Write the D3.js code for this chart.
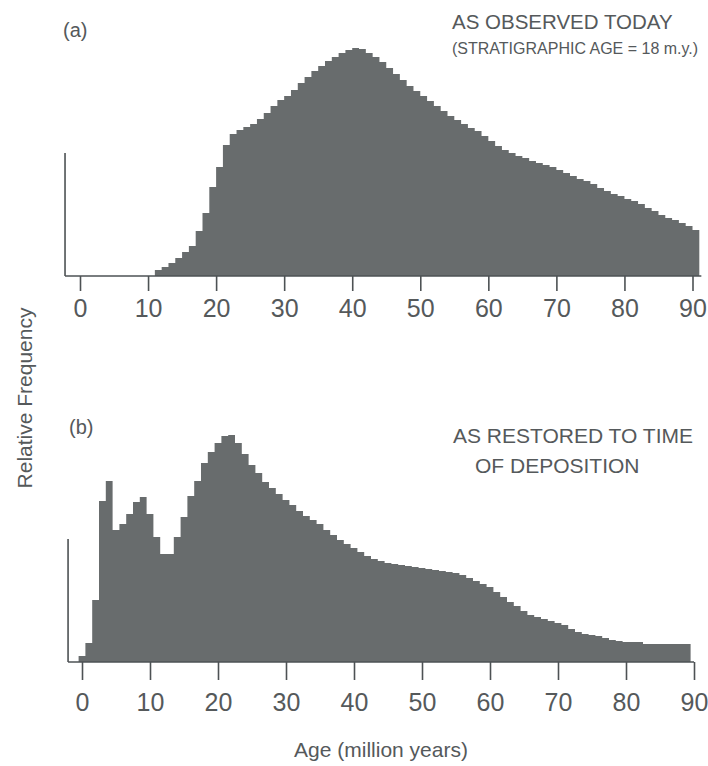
<!DOCTYPE html>
<html>
<head>
<meta charset="utf-8">
<script src="https://cdn.jsdelivr.net/npm/d3@7"></script>
<style>
  html, body { margin: 0; padding: 0; background: #ffffff; }
  svg { display: block; }
  text { font-family: "Liberation Sans", Arial, sans-serif; fill: #55595b; }
</style>
</head>
<body>
<svg id="chart" width="708" height="766"></svg>
<script>
// Age axis tick labels (million years)
const ageTicks = [0, 10, 20, 30, 40, 50, 60, 70, 80, 90];

// (a) Age distribution as observed today: 1 m.y. bins starting at 11 m.y.
const observedBinStart = 11;
const observedFreq = [
  2.6, 3.9, 5.7, 7.9, 10.5, 13.2, 19.7, 27.6, 39.0, 47.8,
  57.5, 62.3, 64.0, 65.4, 66.7, 68.9, 71.5, 74.6, 77.2, 78.9,
  81.6, 84.6, 87.3, 89.9, 92.1, 94.3, 96.1, 97.8, 99.1, 100.0,
  99.6, 97.8, 96.1, 93.9, 91.2, 88.6, 86.0, 83.3, 81.1, 78.9,
  76.8, 74.6, 72.4, 70.2, 68.4, 66.7, 64.9, 63.6, 61.4, 59.2,
  57.0, 55.3, 53.9, 52.6, 51.8, 50.4, 49.6, 48.7, 47.8, 46.5,
  45.2, 43.9, 42.5, 41.7, 40.4, 38.6, 37.3, 36.0, 35.1, 33.8,
  32.9, 31.6, 29.8, 28.5, 26.8, 25.4, 24.6, 23.2, 21.9, 20.2
];

// (b) Age distribution restored to time of deposition: 1 m.y. bins centred on 0, 1, 2 ...
const restoredBinStart = -0.5;
const restoredFreq = [
  2.6, 8.3, 27.2, 70.6, 79.4, 57.9, 60.5, 64.9, 70.2, 72.4,
  64.9, 54.8, 47.4, 47.4, 54.8, 63.6, 72.8, 79.4, 87.3, 92.1,
  96.1, 99.1, 99.6, 96.1, 91.2, 86.4, 82.9, 78.9, 76.3, 73.7,
  71.1, 68.9, 66.2, 64.0, 62.3, 60.5, 57.9, 55.7, 53.5, 51.8,
  50.0, 48.2, 46.5, 45.2, 44.3, 43.4, 43.0, 42.5, 42.1, 41.7,
  41.2, 40.8, 40.4, 39.9, 39.5, 39.0, 38.2, 36.8, 35.5, 34.2,
  32.9, 30.7, 28.5, 26.3, 24.6, 22.4, 20.6, 19.7, 18.9, 18.0,
  17.1, 16.2, 14.5, 13.2, 12.3, 11.8, 11.4, 10.5, 9.6, 9.2,
  8.8, 8.8, 8.8, 7.9, 7.9, 7.9, 7.9, 7.9, 7.9, 7.9
];

const binWidth = 1;
const fillColor = "#686c6d";
const inkColor = "#4d5254";

const svg = d3.select("#chart");

function drawPanel(cfg) {
  const x = d3.scaleLinear().domain([0, 90]).range(cfg.xRange);
  const y = d3.scaleLinear().domain([0, 100]).range(cfg.yRange);
  const g = svg.append("g");

  // histogram outline as a stepped area
  const pts = cfg.values.map((v, i) => [cfg.start + i * binWidth, v]);
  pts.push([cfg.start + cfg.values.length * binWidth, cfg.values[cfg.values.length - 1]]);
  const area = d3.area()
    .x(d => x(d[0]))
    .y0(y(0))
    .y1(d => y(d[1]))
    .curve(d3.curveStepAfter);
  g.append("path").datum(pts)
    .attr("d", area)
    .attr("fill", fillColor);

  // frequency axis stub
  g.append("line")
    .attr("x1", x(cfg.axisFrom)).attr("x2", x(cfg.axisFrom))
    .attr("y1", y(0)).attr("y2", y(cfg.stubTop))
    .attr("stroke", inkColor).attr("stroke-width", 1.6);

  // age baseline
  g.append("line")
    .attr("x1", x(cfg.axisFrom)).attr("x2", x(cfg.axisTo))
    .attr("y1", y(0)).attr("y2", y(0))
    .attr("stroke", inkColor).attr("stroke-width", 1.6);

  // age axis ticks and labels
  const axis = d3.axisBottom(x)
    .tickValues(ageTicks)
    .tickFormat(d3.format("d"))
    .tickSize(cfg.tickLen)
    .tickSizeOuter(0)
    .tickPadding(cfg.tickPad);
  const ax = g.append("g")
    .attr("transform", `translate(0,${y(0)})`)
    .call(axis);
  ax.select(".domain").remove();
  ax.selectAll(".tick line").attr("stroke", inkColor).attr("stroke-width", 1.6);
  ax.selectAll(".tick text")
    .attr("font-family", '"Liberation Sans", Arial, sans-serif')
    .attr("font-size", 25)
    .attr("fill", "#55595b");

  return { x, y };
}

drawPanel({
  values: observedFreq, start: observedBinStart,
  xRange: [80, 692.5], yRange: [276, 48],
  axisFrom: -2.2, axisTo: 91.3, stubTop: 54,
  tickLen: 15, tickPad: 8
});

drawPanel({
  values: restoredFreq, start: restoredBinStart,
  xRange: [82, 694], yRange: [662, 434],
  axisFrom: -2.05, axisTo: 90, stubTop: 54,
  tickLen: 18, tickPad: 13
});

// panel letters
svg.append("text").attr("x", 63).attr("y", 37).attr("font-size", 20).text("(a)");
svg.append("text").attr("x", 69).attr("y", 434).attr("font-size", 20).text("(b)");

// panel captions
svg.append("text").attr("x", 452).attr("y", 29).attr("font-size", 20.5)
  .text("AS  OBSERVED TODAY");
svg.append("text").attr("x", 452).attr("y", 54).attr("font-size", 16)
  .text("(STRATIGRAPHIC AGE = 18 m.y.)");

svg.append("text").attr("x", 453).attr("y", 443).attr("font-size", 21)
  .text("AS RESTORED TO TIME");
svg.append("text").attr("x", 475).attr("y", 473).attr("font-size", 21)
  .text("OF DEPOSITION");

// axis titles
svg.append("text")
  .attr("transform", "translate(32,398) rotate(-90)")
  .attr("text-anchor", "middle")
  .attr("font-size", 21)
  .text("Relative  Frequency");

svg.append("text")
  .attr("x", 381).attr("y", 757)
  .attr("text-anchor", "middle")
  .attr("font-size", 21)
  .text("Age (million years)");
</script>
</body>
</html>
